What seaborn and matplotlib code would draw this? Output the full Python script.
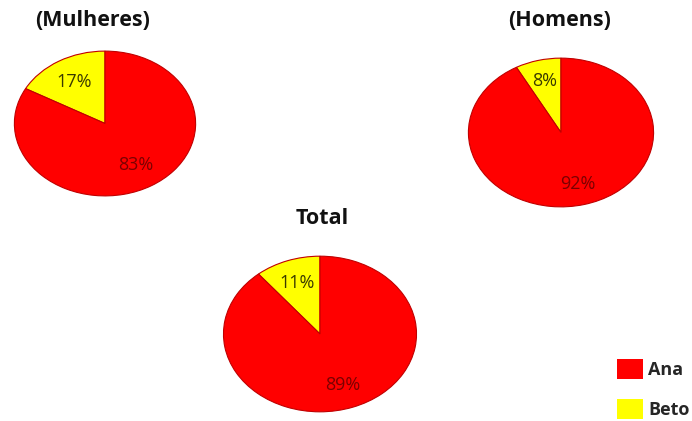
import matplotlib
matplotlib.use("Agg")
import matplotlib.pyplot as plt
import matplotlib.patches as mpatches
import seaborn as sns

# Data
groups = ["(Mulheres)", "(Homens)", "Total"]
categories = ["Beto", "Ana"]
beto = [17, 8, 11]
ana = [83, 92, 89]
legend_order = ["Ana", "Beto"]

sns.set_theme(style="white")
plt.rcParams['font.family'] = ['Open Sans', 'DejaVu Sans']

colors = {"Ana": "#ff0000", "Beto": "#ffff00"}
text_colors = {"Ana": "#7a0000", "Beto": "#3a3a00"}

W, H = 692, 421
fig = plt.figure(figsize=(W / 100, H / 100), dpi=100)
fig.patch.set_facecolor("white")

# pixel boxes (x0, y0, x1, y1) for each pie
boxes = [(13, 50, 197, 197), (467, 57, 655, 208), (222, 255, 418, 413)]
title_pos = [(93, 21), (560, 21), (322, 219)]
pct_dist = [0.66, 0.72, 0.70]

for i, g in enumerate(groups):
    x0, y0, x1, y1 = boxes[i]
    ax = fig.add_axes([x0 / W, 1 - y1 / H, (x1 - x0) / W, (y1 - y0) / H])
    vals = [beto[i], ana[i]]
    wedges, texts, autotexts = ax.pie(
        vals, colors=[colors[c] for c in categories], startangle=90,
        counterclock=True, autopct='%1.0f%%', pctdistance=pct_dist[i],
        wedgeprops=dict(edgecolor="#c00000", linewidth=0.8),
        textprops=dict(fontsize=13), radius=0.985)
    for t, c in zip(autotexts, categories):
        t.set_color(text_colors[c])
    ax.set_aspect('auto')
    ax.set_xlim(-1, 1)
    ax.set_ylim(-1, 1)
    ax.axis('off')
    tx, ty = title_pos[i]
    fig.text(tx / W, 1 - ty / H, g, ha='center', va='center',
             fontsize=15.5, fontweight='bold', color='#111111')

handles = [mpatches.Patch(facecolor=colors[c], edgecolor='none', label=c)
           for c in legend_order]
leg = fig.legend(handles=handles, loc='upper left',
                 bbox_to_anchor=(603 / W, 1 - 345 / H), frameon=False,
                 handlelength=1.4, handleheight=1.3, labelspacing=1.1,
                 handletextpad=0.3, borderpad=0.3,
                 prop=dict(size=13, weight='bold'))

fig.savefig("out.png", dpi=100, facecolor="white")
